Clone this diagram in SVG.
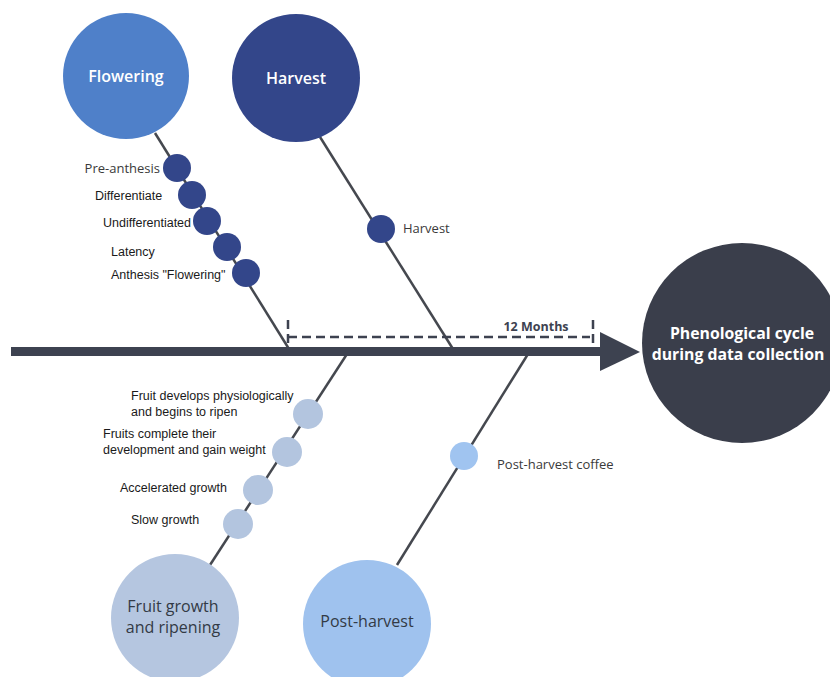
<svg xmlns="http://www.w3.org/2000/svg" width="830" height="677" viewBox="0 0 830 677">
<style>
.ln{stroke:#45484f;stroke-width:2.5;fill:none}
.dash{stroke:#3d4250;stroke-width:2.5;fill:none;stroke-dasharray:9 5}
.lab{font-family:"Liberation Sans",Arial,sans-serif;font-size:12.5px;fill:#1a1a1a}
.lab2{font-family:"Open Sans","Noto Sans",sans-serif;font-size:13px;fill:#3a3a3a}
.ttl{font-family:"Open Sans","Noto Sans",sans-serif;font-weight:600;font-size:16px;text-anchor:middle}
.ttl2{font-family:"Open Sans","Noto Sans",sans-serif;font-weight:500;font-size:16px;text-anchor:middle;fill:#333a45}
.dk{fill:#33468a}
.lt{fill:#b3c5df}
</style>
<rect width="830" height="677" fill="#ffffff"/>
<g id="connectors">
<line class="ln" x1="155" y1="133" x2="289" y2="349"/>
<line class="ln" x1="320" y1="137" x2="453" y2="349"/>
<line class="ln" x1="347" y1="354" x2="210" y2="565"/>
<line class="ln" x1="528" y1="354" x2="397" y2="565"/>
<rect x="11" y="347" width="591" height="9" fill="#3d4250"/>
<polygon points="600,332 640,352 600,371" fill="#3d4250"/>
<path class="dash" d="M288,320 V346 M288,337 H590 M593,320 V346"/>
<text x="536" y="331" text-anchor="middle" style="font-family:'Open Sans','Noto Sans',sans-serif;font-weight:700;font-size:12.5px;fill:#3d4250">12 Months</text>
</g>
<g id="flowering">
<circle cx="126" cy="76" r="63" fill="#4f80c9"/>
<text class="ttl" x="126" y="82" fill="#ffffff">Flowering</text>
</g>
<g id="harvest">
<circle cx="296" cy="78" r="64" fill="#33468a"/>
<text class="ttl" x="296" y="84" fill="#ffffff">Harvest</text>
</g>
<g id="phenological-cycle">
<circle cx="742" cy="343" r="100" fill="#3a3e4b"/>
<text class="ttl" x="742" y="339" fill="#ffffff" style="font-weight:700;font-size:15.8px">Phenological cycle</text>
<text class="ttl" x="738" y="360" fill="#ffffff" style="font-weight:700;font-size:15.8px">during data collection</text>
</g>
<g id="fruit-growth">
<circle cx="175" cy="618" r="64" fill="#b5c6e0"/>
<text class="ttl2" x="173" y="612">Fruit growth</text>
<text class="ttl2" x="173" y="633">and ripening</text>
</g>
<g id="post-harvest">
<circle cx="367" cy="624" r="64" fill="#9fc2ee"/>
<text class="ttl2" x="367" y="627">Post-harvest</text>
</g>
<g id="pre-anthesis">
<circle class="dk" cx="177" cy="168" r="14"/>
<text class="lab2" x="160" y="173" text-anchor="end">Pre-anthesis</text>
</g>
<g id="differentiate">
<circle class="dk" cx="192" cy="195" r="14"/>
<text class="lab" x="95" y="200">Differentiate</text>
</g>
<g id="undifferentiated">
<circle class="dk" cx="207" cy="221" r="14"/>
<text class="lab" x="103" y="227">Undifferentiated</text>
</g>
<g id="latency">
<circle class="dk" cx="227" cy="247" r="14"/>
<text class="lab" x="111" y="256">Latency</text>
</g>
<g id="anthesis">
<circle class="dk" cx="246" cy="273" r="14"/>
<text class="lab" x="111" y="279">Anthesis "Flowering"</text>
</g>
<g id="harvest-stage">
<circle class="dk" cx="381" cy="229" r="14"/>
<text class="lab2" x="403" y="233">Harvest</text>
</g>
<g id="fruit-develops">
<circle class="lt" cx="308" cy="414" r="15"/>
<text class="lab" x="131" y="400">Fruit develops physiologically</text>
<text class="lab" x="131" y="416">and begins to ripen</text>
</g>
<g id="fruits-complete">
<circle class="lt" cx="287" cy="452" r="15"/>
<text class="lab" x="103" y="438">Fruits complete their</text>
<text class="lab" x="103" y="454">development and gain weight</text>
</g>
<g id="accelerated-growth">
<circle class="lt" cx="258" cy="490" r="15"/>
<text class="lab" x="120" y="492">Accelerated growth</text>
</g>
<g id="slow-growth">
<circle class="lt" cx="238" cy="524" r="15"/>
<text class="lab" x="131" y="524">Slow growth</text>
</g>
<g id="post-harvest-coffee">
<circle cx="464" cy="456" r="14" fill="#a0c4f0"/>
<text class="lab2" x="497" y="469">Post-harvest coffee</text>
</g>
</svg>
